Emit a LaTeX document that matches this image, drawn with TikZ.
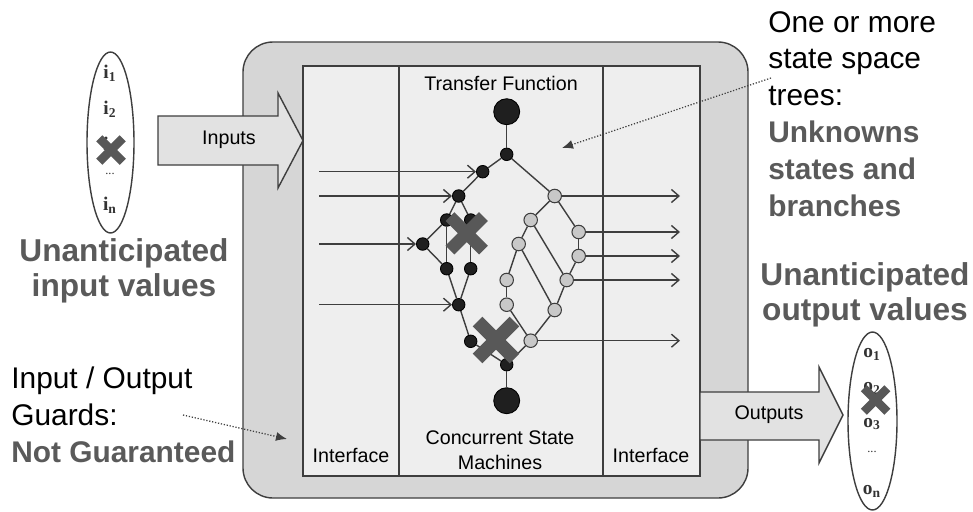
\documentclass[tikz,border=0pt]{standalone}
\usepackage{fontspec}
\setmainfont{Liberation Sans}
\newfontfamily\itemfont{Liberation Serif}
\usetikzlibrary{shapes,arrows,positioning,calc,shapes.geometric,shapes.misc,arrows.meta}

\definecolor{boxgray}{RGB}{214,214,214}
\definecolor{panelgray}{RGB}{238,238,238}
\definecolor{arrowgray}{RGB}{226,226,226}
\definecolor{linegray}{RGB}{62,62,62}
\definecolor{dotgray}{RGB}{200,200,200}
\definecolor{crossgray}{RGB}{88,88,88}
\definecolor{textgray}{RGB}{90,90,90}

\begin{document}
\begin{tikzpicture}[x=0.02cm, y=-0.02cm,
			wire/.style={draw=linegray, line width=0.8pt},
			state/.style={circle, fill=black!88, draw=black, line width=0.5pt, inner sep=0pt, minimum size=0.25cm},
			bigstate/.style={state, minimum size=0.52cm},
			gstate/.style={circle, fill=dotgray, draw=linegray, line width=0.6pt, inner sep=0pt, minimum size=0.27cm},
			xmark/.style={cross out, draw=crossgray, inner sep=0pt},
			flow/.style={wire, -{Straight Barb[length=1.5mm, width=2.6mm]}},
			note/.style={draw=linegray, densely dotted, line width=0.7pt, -{Latex[length=2.2mm, width=1.8mm]}},
			lbl/.style={font=\fontsize{11.2}{14}\selectfont, inner sep=0pt, align=center},
			big/.style={font=\fontsize{17}{21}\selectfont, align=left, inner sep=0pt},
			hot/.style={font=\fontsize{18}{20}\selectfont\bfseries, text=textgray, align=center, inner sep=0pt},
			item/.style={font=\itemfont\fontsize{11}{12}\selectfont\bfseries, text=black!80, inner sep=0pt}]
			\fill[white] (0,0) rectangle (973,511);
			\useasboundingbox (0,0) rectangle (973,511);
			
			% machine box and panels
			\draw[wire, fill=boxgray, rounded corners=0.6cm] (243,42) rectangle (748,498);
			\draw[wire, fill=panelgray] (303,66) rectangle (700,476);
			\draw[wire] (399,66) -- (399,476);
			\draw[wire] (603,66) -- (603,476);
			\node[lbl] (tfun) at (501,83) {Transfer Function};
			\node[lbl] (csm) at (500,450) {Concurrent State\\Machines};
			\node[lbl] (ifleft) at (351,455) {Interface};
			\node[lbl] (ifright) at (651,455) {Interface};
			
			% block arrows
			\draw[wire, fill=arrowgray] (158,116) -- (278,116) -- (278,93) -- (303,140.5) -- (278,188) -- (278,165) -- (158,165) -- cycle;
			\node[lbl] (inputs) at (229,140) {Inputs};
			\draw[wire, fill=arrowgray] (700,392) -- (819,392) -- (819,367) -- (843,415) -- (819,463) -- (819,440) -- (700,440) -- cycle;
			\node[lbl] (outputs) at (769,415) {Outputs};
			
			% state space tree
			\node[bigstate] (src) at (506.7,111.7) {};
			\node[state] (hub) at (506.7,154.3) {};
			\node[state] (b1) at (482.7,171.7) {};
			\node[state] (b2) at (458.7,196) {};
			\node[state] (b3) at (446.7,220) {};
			\node[state] (b4) at (470.7,220) {};
			\node[state] (b5) at (422.7,244) {};
			\node[state] (b6) at (446.7,268.7) {};
			\node[state] (b7) at (470.7,268.7) {};
			\node[state] (b8) at (458.7,304.7) {};
			\node[state] (b9) at (470.7,341.3) {};
			\node[state] (join) at (506.7,364.7) {};
			\node[bigstate] (sink) at (506.7,400.7) {};
			\node[gstate] (g1) at (554.7,196) {};
			\node[gstate] (g2) at (530.7,220) {};
			\node[gstate] (g3) at (578.7,232) {};
			\node[gstate] (g4) at (518.7,244) {};
			\node[gstate] (g5) at (578.7,256) {};
			\node[gstate] (g6) at (566.7,280) {};
			\node[gstate] (g7) at (506.7,280) {};
			\node[gstate] (g8) at (506.7,304.7) {};
			\node[gstate] (g9) at (554.7,310) {};
			\node[gstate] (g10) at (530.7,340.7) {};
			
			\foreach \a/\b in {src/hub, hub/b1, hub/g1, b1/b2, b2/b3, b2/b4, b3/b5, b3/b6, b4/b7, b5/b6,
				b6/b8, b7/b8, b8/b9, b9/join, join/g10, join/sink, g1/g2, g1/g3, g2/g4, g2/g6,
				g3/g5, g5/g6, g4/g7, g4/g9, g6/g9, g7/g8, g8/g10, g9/g10}
				\draw[wire] (\a) -- (\b);
			
			% inputs into the tree, outputs out of it
			\coordinate (in1) at (319,171.7);
			\coordinate (in2) at (319,196);
			\coordinate (in3) at (319,244);
			\coordinate (in4) at (319,304.7);
			\draw[flow] (in1) -- (b1);
			\draw[flow] (in2) -- (b2);
			\draw[flow] (in3) -- (b5);
			\draw[flow] (in4) -- (b8);
			\coordinate (out1) at (680,196);
			\coordinate (out2) at (680,232);
			\coordinate (out3) at (680,256);
			\coordinate (out4) at (680,280);
			\coordinate (out5) at (680,340.7);
			\draw[flow] (g1) -- (out1);
			\draw[flow] (g3) -- (out2);
			\draw[flow] (g5) -- (out3);
			\draw[flow] (g6) -- (out4);
			\draw[flow] (g10) -- (out5);
			
			\node[xmark, minimum size=0.42cm, line width=0.25cm] (fail1) at (466.7,233.3) {};
			\node[xmark, minimum size=0.47cm, line width=0.27cm] (fail2) at (496,340) {};
			
			% input values
			\node[ellipse, wire, minimum width=0.94cm, minimum height=3.62cm] (inset) at (110.5,142.5) {};
			\node[item] (i1) at (110,73) {i\textsubscript{1}};
			\node[item] (i2) at (110,109) {i\textsubscript{2}};
			\node[item] (i3) at (110,145) {i\textsubscript{3}};
			\node[item, font=\itemfont\fontsize{7}{8}\selectfont] (idots) at (110,174) {...};
			\node[item] (in) at (110,205) {i\textsubscript{n}};
			\node[xmark, minimum size=0.3cm, line width=0.17cm] (fail3) at (111,150) {};
			
			% output values
			\node[ellipse, wire, minimum width=0.98cm, minimum height=3.56cm] (outset) at (872.5,421) {};
			\node[item] (o1) at (872,354) {o\textsubscript{1}};
			\node[item] (o2) at (872,388) {o\textsubscript{2}};
			\node[item] (o3) at (872,424) {o\textsubscript{3}};
			\node[item, font=\itemfont\fontsize{7}{8}\selectfont] (odots) at (872,452) {...};
			\node[item] (on) at (872,491) {o\textsubscript{n}};
			\node[xmark, minimum size=0.3cm, line width=0.17cm] (fail4) at (875.7,400) {};
			
			% notes
			\node[hot] (unin) at (124,271) {Unanticipated\\input values};
			\node[hot] (unout) at (865,295) {Unanticipated\\output values};
			\node[big, anchor=west] (trees) at (768,114) {One or more\\state space\\trees:\\{\bfseries\color{textgray}Unknowns}\\{\bfseries\color{textgray}states and}\\{\bfseries\color{textgray}branches}};
			\node[big, anchor=west] (guards) at (11,415) {Input / Output\\Guards:\\{\bfseries\color{textgray}Not Guaranteed}};
			\coordinate (treefrom) at (771,78);
			\coordinate (treeto) at (562,148);
			\coordinate (guardfrom) at (183,415);
			\coordinate (guardto) at (287,439);
			\draw[note] (treefrom) -- (treeto);
			\draw[note] (guardfrom) -- (guardto);
		\end{tikzpicture}
\end{document}
